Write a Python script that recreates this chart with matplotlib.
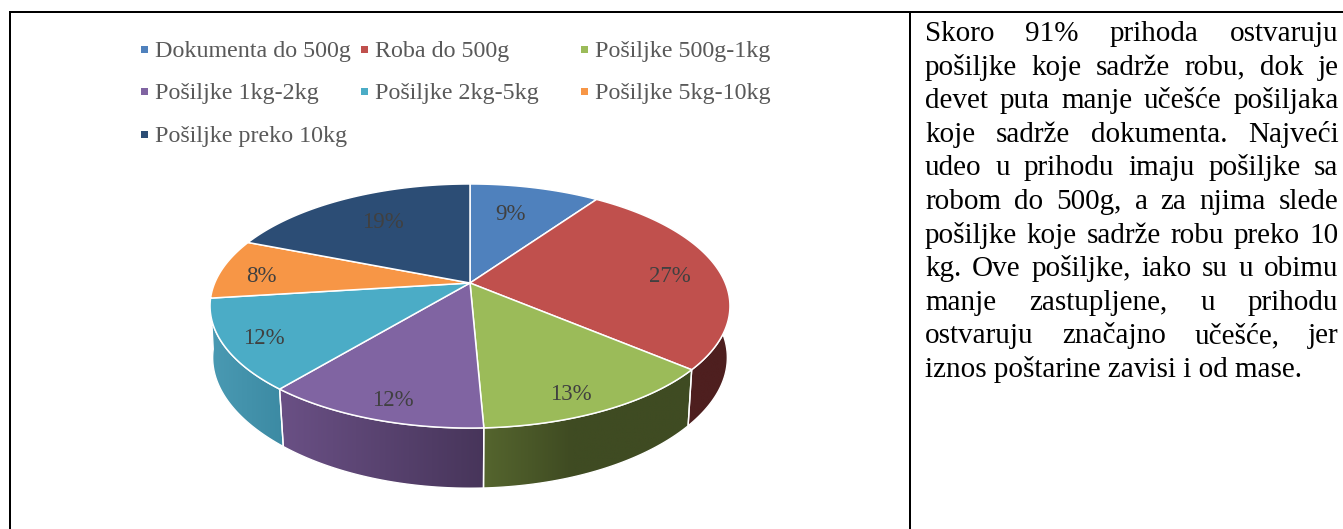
import numpy as np
import matplotlib
matplotlib.use("Agg")
import matplotlib.pyplot as plt
from matplotlib.patches import Polygon, Rectangle
from matplotlib.colors import LinearSegmentedColormap
from matplotlib.font_manager import FontProperties

categories = ["Dokumenta do 500g", "Roba do 500g", "Pošiljke 500g-1kg", "Pošiljke 1kg-2kg",
              "Pošiljke 2kg-5kg", "Pošiljke 5kg-10kg", "Pošiljke preko 10kg"]
shares = [9.7, 26.5, 13.1, 11.7, 12.0, 8.0, 19.0]
labels = ["9%", "27%", "13%", "12%", "12%", "8%", "19%"]
colors = ["#4F81BD", "#C0504D", "#9BBB59", "#8064A2", "#4BACC6", "#F79646", "#2C4D75"]
label_xy = [(510, 214), (670, 277), (571, 394), (393, 400), (264, 339), (261, 276), (383, 222)]
legend_rows = [(0, 141, 155, 49, 57), (1, 361, 375, 49, 57), (2, 581, 595, 49, 57),
               (3, 141, 155, 91, 99), (4, 361, 375, 91, 99), (5, 581, 595, 91, 99),
               (6, 141, 155, 134, 142)]
paragraph = [
    ("Skoro 91% prihoda ostvaruju", True),
    ("pošiljke koje sadrže robu, dok je", True),
    ("devet puta manje učešće pošiljaka", True),
    ("koje sadrže dokumenta. Najveći", True),
    ("udeo u prihodu imaju pošiljke sa", True),
    ("robom do 500g, a za njima slede", True),
    ("pošiljke koje sadrže robu preko 10", True),
    ("kg. Ove pošiljke, iako su u obimu", True),
    ("manje zastupljene, u prihodu", True),
    ("ostvaruju značajno učešće, jer", True),
    ("iznos poštarine zavisi i od mase.", False),
]
wall_stops = {1: [(0, "#4E1F1F"), (1, "#4E1F1F")],
              2: [(0, "#55652E"), (0.42, "#3F4B22"), (1, "#3F4B22")],
              3: [(0, "#6A5085"), (1, "#47355A")],
              4: [(0, "#4A9AB3"), (1, "#3C8AA3")]}

W, H = 1343, 529
SERIF = "Liberation Serif"
fig = plt.figure(figsize=(W / 100, H / 100), dpi=100)
ax = fig.add_axes([0, 0, 1, 1])

CX, CY, RX, RY, K = 470.0, 283.0, 255.3, 117.7, 0.1885


def top_xy(theta):
    sx, cy = np.sin(theta), np.cos(theta)
    s = 1 / (1 + K * cy)
    return CX + RX * sx * s, CY - RY * cy * s


def bottom_xy(theta):
    x, y = top_xy(theta)
    squeeze = 0.977 + 0.012 * (np.abs(x - CX) / RX) ** 4
    return CX + (x - CX) * squeeze, CY + 50 + (y - CY) * 1.07


edges = np.cumsum([0.0] + shares) / sum(shares) * 2 * np.pi

for i in [4, 1, 3, 2]:
    th = np.linspace(edges[i], edges[i + 1], 120)
    tx, ty = top_xy(th)
    bx, by = bottom_xy(th)
    pts = np.r_[np.c_[tx, ty], np.c_[bx, by][::-1]]
    poly = Polygon(pts, closed=True, fc="none", ec="none")
    ax.add_patch(poly)
    x0, x1 = pts[:, 0].min(), pts[:, 0].max()
    y0, y1 = pts[:, 1].min(), pts[:, 1].max()
    cmap = LinearSegmentedColormap.from_list("w%d" % i, wall_stops[i])
    im = ax.imshow(np.linspace(0, 1, 256)[None, :], extent=(x0, x1, y1, y0),
                   cmap=cmap, aspect="auto", interpolation="bilinear", zorder=2)
    im.set_clip_path(poly)
    ax.add_patch(Polygon(pts, closed=True, fc="none", ec="white", lw=1.0, zorder=3))

for i, color in enumerate(colors):
    th = np.linspace(edges[i], edges[i + 1], 120)
    tx, ty = top_xy(th)
    pts = np.r_[[[CX, CY]], np.c_[tx, ty]]
    ax.add_patch(Polygon(pts, closed=True, fc=color, ec="white", lw=1.1, zorder=4,
                         joinstyle="round"))

for text, (x, y) in zip(labels, label_xy):
    ax.text(x, y, text, family=SERIF, fontsize=16.5, color="#404040",
            ha="center", va="center", zorder=5)

for i, mx, tx, my, base in legend_rows:
    ax.add_patch(Rectangle((mx, my - 3.5), 7, 7, fc=colors[i], ec="none", zorder=5))
    ax.text(tx, base, categories[i], family=SERIF, fontsize=17.3, color="#595959",
            ha="left", va="baseline", zorder=5)

border = dict(color="black", lw=1.44, solid_capstyle="butt", zorder=6)
ax.plot([10, 10], [H, 11], **border)
ax.plot([910, 910], [H, 12], **border)
ax.plot([9, W], [12, 12], **border)

ax.set_xlim(0, W)
ax.set_ylim(H, 0)
ax.axis("off")

renderer = fig.canvas.get_renderer()
prop = FontProperties(family=SERIF, size=21)


def adv(s):
    return renderer.get_text_width_height_descent(s, prop, False)[0]


LEFT, RIGHT = 925.0, 1338.5
for n, (line, justify) in enumerate(paragraph):
    base = 41 + n * 33.6
    if justify:
        words = line.split(" ")
        gap = (RIGHT - LEFT - sum(adv(w) for w in words)) / (len(words) - 1)
        x = LEFT
        for w in words:
            ax.text(x, base, w, fontproperties=prop, color="black", ha="left",
                    va="baseline", zorder=5)
            x += adv(w) + gap
    else:
        ax.text(LEFT, base, line, fontproperties=prop, color="black", ha="left",
                va="baseline", zorder=5)

fig.savefig("out.png", dpi=100)
